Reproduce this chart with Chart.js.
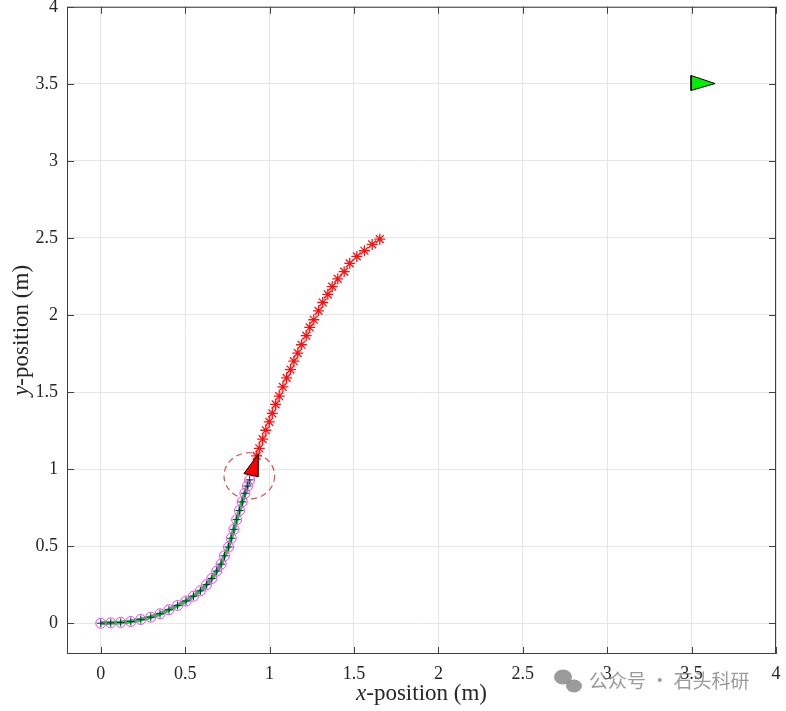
<!DOCTYPE html>
<html>
<head>
<meta charset="utf-8">
<script src="https://cdn.jsdelivr.net/npm/chart.js@4.4.0/dist/chart.umd.min.js"></script>
<style>
  html, body { margin: 0; padding: 0; background: #fff; }
  canvas { display: block; }
</style>
</head>
<body>
<canvas id="myChart" width="786" height="711"></canvas>
<script>
// axis ticks
const xTicks = [0, 0.5, 1, 1.5, 2, 2.5, 3, 3.5, 4]
const yTicks = [0, 0.5, 1, 1.5, 2, 2.5, 3, 3.5, 4]

// travelled path (green line, blue + and magenta o)
const pathX = [0, 0.059, 0.118, 0.178, 0.237, 0.296, 0.351, 0.404, 0.455, 0.505, 0.549, 0.590, 0.627,
    0.658, 0.687, 0.713, 0.733, 0.757, 0.773, 0.789, 0.805, 0.822, 0.838, 0.854, 0.869, 0.882]
const pathY = [0, 0.002, 0.005, 0.011, 0.024, 0.039, 0.061, 0.087, 0.115, 0.144, 0.175, 0.210, 0.250,
    0.290, 0.338, 0.383, 0.437, 0.494, 0.551, 0.609, 0.672, 0.731, 0.787, 0.843, 0.890, 0.930]

// predicted trajectory (red *)
const predX = [0.923, 0.939, 0.959, 0.978, 0.998, 1.016, 1.036, 1.057, 1.079, 1.101, 1.124, 1.144, 1.167,
    1.189, 1.217, 1.238, 1.262, 1.290, 1.315, 1.345, 1.371, 1.404, 1.442, 1.475, 1.517, 1.562, 1.608, 1.653]
const predY = [1.086, 1.135, 1.194, 1.252, 1.307, 1.362, 1.420, 1.473, 1.533, 1.592, 1.646, 1.700, 1.753,
    1.807, 1.866, 1.919, 1.969, 2.027, 2.081, 2.134, 2.184, 2.234, 2.281, 2.335, 2.380, 2.417, 2.458, 2.492]

// robot (red triangle) and goal (green triangle) corners
const robotX = [0.933, 0.848, 0.933, 0.933]
const robotY = [1.097, 0.971, 0.950, 1.097]
const goalX = [3.497, 3.497, 3.639, 3.497]
const goalY = [3.554, 3.457, 3.502, 3.554]

// safety circle around robot
const circleX = 0.88
const circleY = 0.956
const circleR = 0.15

const pts = (xs, ys) => xs.map((x, i) => ({ x: x, y: ys[i] }))

const serif = 'Liberation Serif, Times New Roman, serif'

const framePlugin = {
    id: 'frame',
    beforeDatasetsDraw(chart) {
        const { ctx, scales: { x, y } } = chart
        const cx = x.getPixelForValue(circleX)
        const cy = y.getPixelForValue(circleY)
        const rx = Math.abs(x.getPixelForValue(circleX + circleR) - cx)
        const ry = Math.abs(y.getPixelForValue(circleY + circleR) - cy)
        ctx.save()
        ctx.strokeStyle = '#e0504a'
        ctx.lineWidth = 1.2
        ctx.setLineDash([6, 4])
        ctx.beginPath()
        ctx.ellipse(cx, cy, rx, ry, 0, 0, Math.PI * 2)
        ctx.stroke()
        ctx.restore()
    },
    afterDraw(chart) {
        const { ctx, chartArea: a, scales: { x, y } } = chart
        ctx.save()
        // box + inner ticks
        ctx.strokeStyle = '#404040'
        ctx.lineWidth = 1
        ctx.strokeRect(a.left + 0.5, a.top + 0.5, a.right - a.left - 1, a.bottom - a.top - 1)
        ctx.beginPath()
        xTicks.forEach(v => {
            const px = Math.round(x.getPixelForValue(v)) + 0.5
            ctx.moveTo(px, a.bottom); ctx.lineTo(px, a.bottom - 7)
            ctx.moveTo(px, a.top); ctx.lineTo(px, a.top + 7)
        })
        yTicks.forEach(v => {
            const py = Math.round(y.getPixelForValue(v)) + 0.5
            ctx.moveTo(a.left, py); ctx.lineTo(a.left + 7, py)
            ctx.moveTo(a.right, py); ctx.lineTo(a.right - 7, py)
        })
        ctx.stroke()

        // axis titles, italic variable name
        const drawTitle = (v, rest, cxp, cyp, rot) => {
            ctx.save()
            ctx.translate(cxp, cyp)
            ctx.rotate(rot)
            ctx.fillStyle = '#262626'
            ctx.textBaseline = 'middle'
            ctx.font = 'italic 23px ' + serif
            const w1 = ctx.measureText(v).width
            ctx.font = '23px ' + serif
            const w2 = ctx.measureText(rest).width
            let sx = -(w1 + w2) / 2
            ctx.font = 'italic 23px ' + serif
            ctx.fillText(v, sx, 0)
            ctx.font = '23px ' + serif
            ctx.fillText(rest, sx + w1, 0)
            ctx.restore()
        }
        drawTitle('x', '-position (m)', (a.left + a.right) / 2, 694, 0)
        drawTitle('y', '-position (m)', 22, (a.top + a.bottom) / 2, -Math.PI / 2)

        // watermark
        ctx.fillStyle = 'rgba(130,130,130,0.8)'
        ctx.beginPath(); ctx.ellipse(563, 677, 9, 7.5, 0, 0, Math.PI * 2); ctx.fill()
        ctx.beginPath(); ctx.ellipse(574, 686, 8, 6.5, 0, 0, Math.PI * 2); ctx.fill()
        ctx.font = '19px "Noto Sans CJK SC", sans-serif'
        ctx.textBaseline = 'middle'
        ctx.fillText('公众号 · 石头科研', 589, 681)
        ctx.restore()
    }
}

const ctx = document.getElementById('myChart').getContext('2d')

const myChart = new Chart(ctx, {
    type: 'scatter',
    data: {
        datasets: [
            {
                data: pts(robotX, robotY),
                showLine: true,
                fill: 'shape',
                backgroundColor: '#ff0000',
                borderColor: '#000000',
                borderWidth: 1,
                pointRadius: 0,
                order: 0
            },
            {
                data: pts(goalX, goalY),
                showLine: true,
                fill: 'shape',
                backgroundColor: '#00ee00',
                borderColor: '#000000',
                borderWidth: 1,
                pointRadius: 0,
                order: 1
            },
            {
                data: pts(predX, predY),
                showLine: true,
                borderColor: 'rgba(255,80,80,0.5)',
                borderWidth: 1,
                pointStyle: 'star',
                pointRadius: 5.5,
                pointBorderColor: '#ff1010',
                pointBorderWidth: 1.3,
                pointBackgroundColor: '#ff1010',
                order: 2
            },
            {
                data: pts(pathX, pathY),
                showLine: false,
                pointStyle: 'circle',
                pointRadius: 5,
                pointBorderColor: '#ff33ff',
                pointBorderWidth: 1,
                pointBackgroundColor: 'rgba(0,0,0,0)',
                order: 3
            },
            {
                data: pts(pathX, pathY),
                showLine: false,
                pointStyle: 'cross',
                pointRadius: 4,
                pointBorderColor: '#1a1a80',
                pointBorderWidth: 1,
                order: 4
            },
            {
                data: pts(pathX, pathY),
                showLine: true,
                borderColor: '#10dd10',
                borderWidth: 4,
                pointRadius: 0,
                order: 5
            }
        ]
    },
    options: {
        responsive: false,
        devicePixelRatio: 1,
        animation: false,
        layout: { padding: { top: 4, right: 10, left: 0, bottom: 0 } },
        plugins: {
            legend: { display: false },
            tooltip: { enabled: false }
        },
        scales: {
            x: {
                type: 'linear',
                min: -0.2,
                max: 4,
                afterBuildTicks: s => { s.ticks = xTicks.map(v => ({ value: v })) },
                afterFit: s => { s.height = 57; s.paddingLeft = 0; s.paddingRight = 0 },
                grid: { color: '#e6e6e6', drawTicks: false },
                border: { display: false },
                ticks: {
                    font: { family: serif, size: 18 },
                    color: '#262626',
                    padding: 9,
                    maxRotation: 0,
                    autoSkip: false,
                    callback: v => String(v)
                }
            },
            y: {
                type: 'linear',
                min: -0.2,
                max: 4,
                afterBuildTicks: s => { s.ticks = yTicks.map(v => ({ value: v })) },
                afterFit: s => { s.width = 67; s.paddingTop = 0; s.paddingBottom = 0 },
                grid: { color: '#e6e6e6', drawTicks: false },
                border: { display: false },
                ticks: {
                    font: { family: serif, size: 18 },
                    color: '#262626',
                    padding: 9,
                    autoSkip: false,
                    callback: v => String(v)
                }
            }
        }
    },
    plugins: [framePlugin]
})
</script>
</body>
</html>
